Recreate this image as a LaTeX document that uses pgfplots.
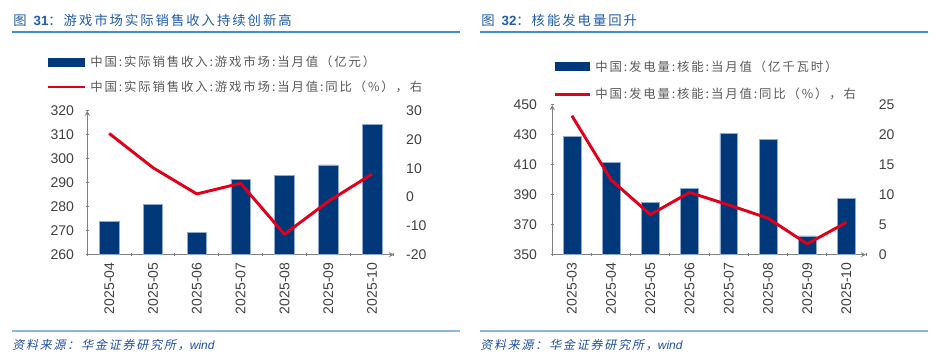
\documentclass[border=0pt]{standalone}
\usepackage{pgfplots}
\pgfplotsset{compat=1.18}
\usepackage{fontspec}
\setmainfont{Liberation Sans}
\newfontfamily\cjk[LetterSpace=15]{Noto Sans CJK SC}
\newfontfamily\cjkit[FakeSlant=0.2,LetterSpace=15]{Noto Sans CJK SC}
\definecolor{barblue}{HTML}{00387A}
\definecolor{baredge}{HTML}{8FA9CF}
\definecolor{linered}{HTML}{E0001A}
\definecolor{titleblue}{HTML}{1F5BA8}
\definecolor{titleline}{HTML}{3E8ED0}
\definecolor{footblue}{HTML}{1F4F9F}
\definecolor{footline}{HTML}{8DB7DD}
\definecolor{labgray}{HTML}{404040}
\definecolor{leggray}{HTML}{595959}
\definecolor{axgray}{HTML}{808080}
\pgfplotsset{
  base/.style={
    scale only axis, anchor=south west,
    /pgf/number format/assume math mode=true,
    tick label style={font=\fontsize{10.5}{12}\selectfont, text=labgray},
    axis line style={-, draw=axgray, line width=0.75pt},
    tick style={draw=axgray, line width=0.75pt},
    tick align=outside,
    major tick length=2.5pt, minor tick length=2.5pt,
  },
  barax/.style={
    base, ybar,
    axis x line=bottom, axis y line=left,
    major x tick style={draw=none},
    xticklabel style={rotate=90, anchor=east, inner sep=0pt},
    xticklabel shift=4.5pt,
    yticklabel style={anchor=east, inner sep=0pt},
    yticklabel shift=8.5pt,
  },
  lineax/.style={
    base,
    axis x line=none, axis y line=right,
    y axis line style={draw=none},
    ytick style={draw=none},
    major tick length=0pt,
    yticklabel style={anchor=west, inner sep=0pt},
    yticklabel shift=9pt,
  },
}
\begin{document}
\begin{tikzpicture}[x=0.75pt,y=0.75pt]
\useasboundingbox (0,0) rectangle (946,362);
% titles
\node[anchor=west, inner sep=0pt, text=titleblue] at (13,342)
  {\fontsize{10}{12}\selectfont\cjk 图 \textbf{\fontspec{Liberation Sans}31}：游戏市场实际销售收入持续创新高};
\node[anchor=west, inner sep=0pt, text=titleblue] at (481,342)
  {\fontsize{10}{12}\selectfont\cjk 图 \textbf{\fontspec{Liberation Sans}32}：核能发电量回升};
\draw[titleline, line width=1.1pt] (12,330) -- (460,330);
\draw[titleline, line width=1.1pt] (480,330) -- (928,330);
% footers
\draw[footline, line width=1.3pt] (12,31.3) -- (460,31.3);
\draw[footline, line width=1.3pt] (480,31.3) -- (928,31.3);
\node[anchor=west, inner sep=0pt, text=footblue] at (12,17)
  {\fontsize{9}{11}\selectfont\cjkit 资料来源：华金证券研究所，{\fontspec{Liberation Sans}\itshape wind}};
\node[anchor=west, inner sep=0pt, text=footblue] at (480,17)
  {\fontsize{9}{11}\selectfont\cjkit 资料来源：华金证券研究所，{\fontspec{Liberation Sans}\itshape wind}};
% legends
\fill[barblue] (48,295) rectangle (85,304);
\node[anchor=west, inner sep=0pt, text=leggray] at (90,300)
  {\fontsize{9.3}{11}\selectfont\cjk 中国:实际销售收入:游戏市场:当月值（亿元）};
\draw[linered, line width=1.8pt] (48,275) -- (85,275);
\node[anchor=west, inner sep=0pt, text=leggray] at (90,275)
  {\fontsize{9.3}{11}\selectfont\cjk 中国:实际销售收入:游戏市场:当月值:同比（\%），右};
\fill[barblue] (555,291) rectangle (590,300);
\node[anchor=west, inner sep=0pt, text=leggray] at (595,295.5)
  {\fontsize{9.3}{11}\selectfont\cjk 中国:发电量:核能:当月值（亿千瓦时）};
\draw[linered, line width=1.8pt] (555,267.7) -- (590,267.7);
\node[anchor=west, inner sep=0pt, text=leggray] at (595,267.7)
  {\fontsize{9.3}{11}\selectfont\cjk 中国:发电量:核能:当月值:同比（\%），右};

% ---------- left chart ----------
\begin{axis}[barax, at={(65.475pt,80.475pt)}, width=230pt, height=108pt,
  xmin=-0.5, xmax=6.5, ymin=260, ymax=320, ytick={260,270,...,320},
  bar width=14.6pt,
  xtick={0,...,6},
  xticklabels={2025-04,2025-05,2025-06,2025-07,2025-08,2025-09,2025-10},
  minor xtick={-0.5,0.5,...,6.5}]
\addplot[fill=barblue, draw=baredge, line width=0.4pt] coordinates
  {(0,274.0) (1,281.0) (2,269.4) (3,291.4) (4,293.2) (5,297.4) (6,314.3)};
\end{axis}
\begin{axis}[lineax, at={(65.475pt,80.475pt)}, width=230pt, height=108pt,
  xmin=-0.5, xmax=6.5, ymin=-20, ymax=30, ytick={-20,-10,...,30}]
\addplot[linered, line width=2.2pt, line join=round, mark=none] coordinates
  {(0,22.1) (1,10.2) (2,1.1) (3,4.8) (4,-12.9) (5,-1.5) (6,8.0)};
\end{axis}

% ---------- right chart ----------
\begin{axis}[barax, at={(414.225pt,80.475pt)}, width=235.3pt, height=112.3pt,
  xmin=-0.5, xmax=7.5, ymin=350, ymax=450, ytick={350,370,...,450},
  bar width=13.3pt, yticklabel shift=10pt,
  xtick={0,...,7},
  xticklabels={2025-03,2025-04,2025-05,2025-06,2025-07,2025-08,2025-09,2025-10},
  minor xtick={-0.5,0.5,...,7.5}]
\addplot[fill=barblue, draw=baredge, line width=0.4pt] coordinates
  {(0,428.8) (1,411.9) (2,385.0) (3,394.3) (4,430.8) (5,427.1) (6,362.5) (7,387.4)};
\end{axis}
\begin{axis}[lineax, at={(414.225pt,80.475pt)}, width=235.3pt, height=112.3pt,
  xmin=-0.5, xmax=7.5, ymin=0, ymax=25, ytick={0,5,...,25}, yticklabel shift=9.5pt]
\addplot[linered, line width=2.2pt, line join=round, mark=none] coordinates
  {(0,23.2) (1,12.5) (2,6.7) (3,10.4) (4,8.3) (5,6.1) (6,1.8) (7,5.4)};
\end{axis}
\end{tikzpicture}
\end{document}
